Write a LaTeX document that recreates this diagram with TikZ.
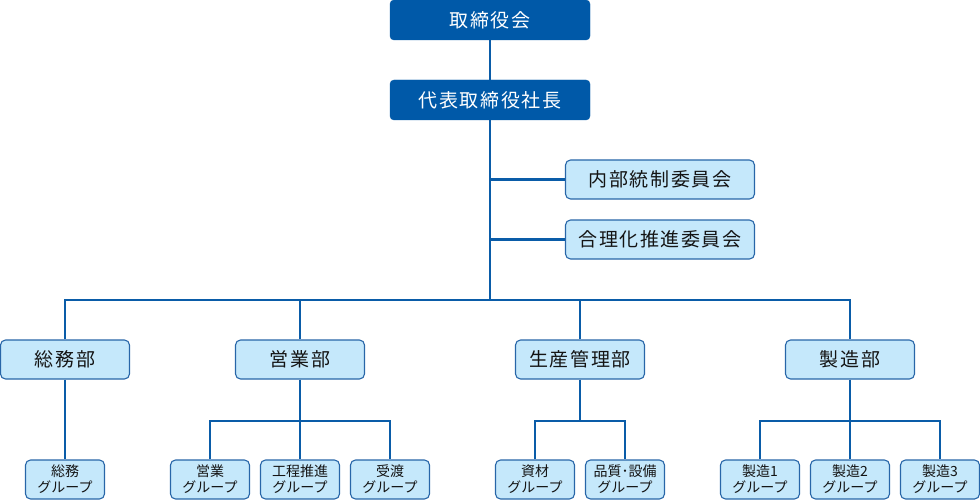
\documentclass[tikz,border=0pt]{standalone}
\usepackage{fontspec}
\setmainfont{Noto Sans CJK JP}
\newfontfamily\jpbig[LetterSpace=8]{Noto Sans CJK JP}
\usepackage{xcolor}
\definecolor{darkblue}{HTML}{0059A8}
\definecolor{lineblue}{HTML}{0A5CA8}
\definecolor{lightblue}{HTML}{C5E8FB}
\definecolor{edgeblue}{HTML}{2866A8}
\definecolor{inkgray}{HTML}{141414}

\begin{document}
\begin{tikzpicture}[x=1pt,y=-1pt,
	topbox/.style={fill=darkblue,draw=darkblue,rounded corners=4pt,minimum width=200pt,minimum height=40pt,inner sep=0pt,text=white,font=\jpbig\fontsize{19}{22}\selectfont},
	unitbox/.style={fill=lightblue,draw=edgeblue,line width=1.1pt,rounded corners=5pt,minimum height=39pt,inner sep=0pt,text=inkgray,font=\jpbig\fontsize{19}{22}\selectfont},
	groupbox/.style={fill=lightblue,draw=edgeblue,line width=1.1pt,rounded corners=5pt,minimum width=79pt,minimum height=39pt,inner sep=0pt,align=center,text=inkgray,font=\fontsize{14}{16}\selectfont},
	link/.style={draw=lineblue,line width=2.5pt}]
	\useasboundingbox (0,0) rectangle (980,500);
	\node[topbox] (board) at (490,20) {取締役会};
	\node[topbox] (ceo) at (490,100) {代表取締役社長};
	\node[unitbox,minimum width=189pt] (audit) at (660,179.5) {内部統制委員会};
	\node[unitbox,minimum width=189pt] (rational) at (660,239.5) {合理化推進委員会};
	\node[unitbox,minimum width=129pt] (soumu) at (65,359.5) {総務部};
	\node[unitbox,minimum width=129pt] (eigyo) at (300,359.5) {営業部};
	\node[unitbox,minimum width=129pt] (seisan) at (580,359.5) {生産管理部};
	\node[unitbox,minimum width=129pt] (seizo) at (850,359.5) {製造部};
	\node[groupbox] (soumug) at (65,479.5) {総務\\グループ};
	\node[groupbox] (eigyog) at (210,479.5) {営業\\グループ};
	\node[groupbox] (kouteig) at (300,479.5) {工程推進\\グループ};
	\node[groupbox] (ukewatashig) at (390,479.5) {受渡\\グループ};
	\node[groupbox] (shizaig) at (535,479.5) {資材\\グループ};
	\node[groupbox] (hinshitsug) at (625,479.5) {品質･設備\\グループ};
	\node[groupbox] (seizo1g) at (760,479.5) {製造1\\グループ};
	\node[groupbox] (seizo2g) at (850,479.5) {製造2\\グループ};
	\node[groupbox] (seizo3g) at (940,479.5) {製造3\\グループ};
	\coordinate (bus) at (490,300);
	\coordinate (eigyobus) at (300,421);
	\coordinate (seisanbus) at (580,421);
	\coordinate (seizobus) at (850,421);
	\draw[link] (board) -- (ceo);
	\draw[link] (ceo) -- (bus);
	\draw[link] (ceo.south |- audit) -- (audit);
	\draw[link] (ceo.south |- rational) -- (rational);
	\draw[link] (soumu.north) |- (bus) -| (seizo.north);
	\draw[link] (eigyo.north) -- (eigyo.north |- bus);
	\draw[link] (seisan.north) -- (seisan.north |- bus);
	\draw[link] (soumu) -- (soumug);
	\draw[link] (eigyo) -- (kouteig);
	\draw[link] (eigyog.north) |- (eigyobus) -| (ukewatashig.north);
	\draw[link] (seisan) -- (seisanbus);
	\draw[link] (shizaig.north) |- (seisanbus) -| (hinshitsug.north);
	\draw[link] (seizo) -- (seizo2g);
	\draw[link] (seizo1g.north) |- (seizobus) -| (seizo3g.north);
\end{tikzpicture}
\end{document}
